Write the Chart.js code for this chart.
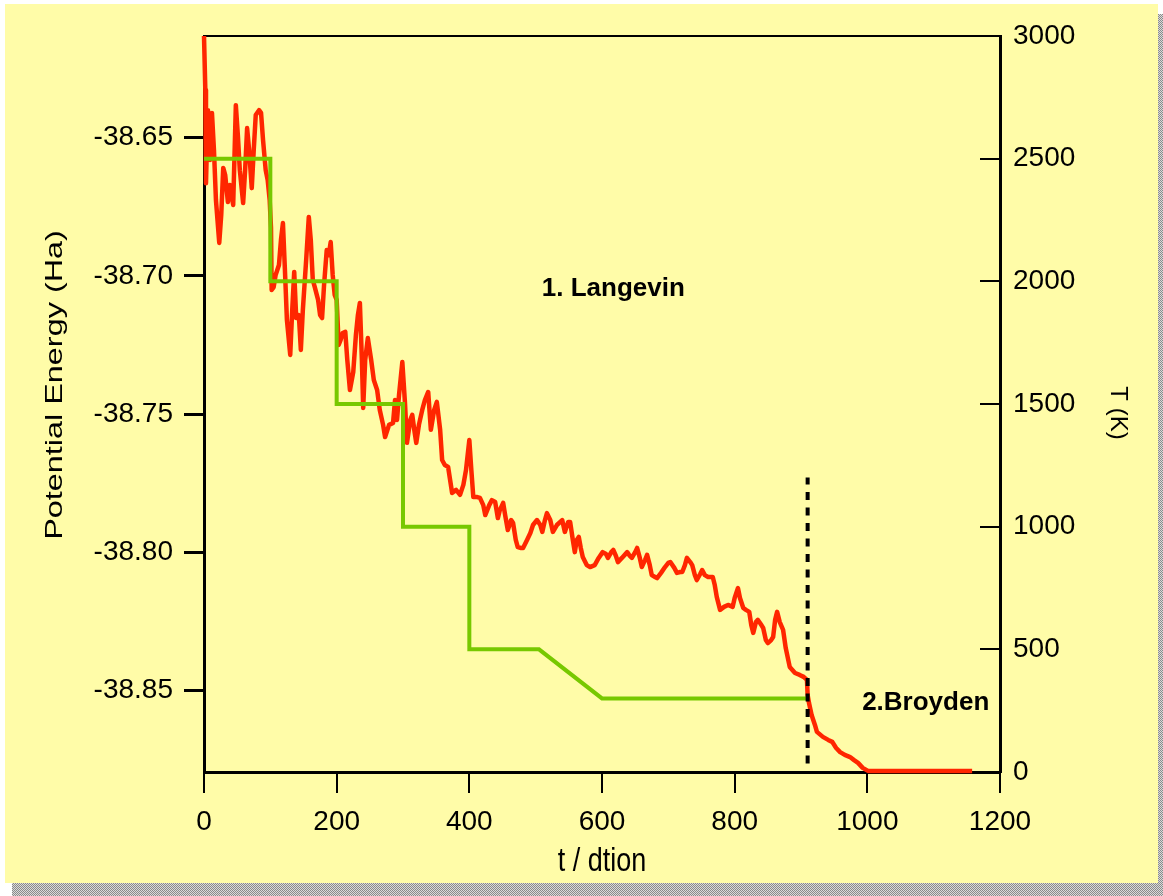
<!DOCTYPE html>
<html>
<head>
<meta charset="utf-8">
<title>Potential energy and temperature</title>
<script src="https://cdn.jsdelivr.net/npm/chart.js@4.4.1/dist/chart.umd.min.js"></script>
<style>
  html, body { margin: 0; padding: 0; background: #fff; }
  canvas { display: block; }
</style>
</head>
<body>
<canvas id="chart" width="1163" height="896"></canvas>
<script>
// Potential energy along the run (t in steps, E in Ha)
const energyTime = [
    0, 2, 3, 5, 6, 8, 9, 11, 12, 15,
    18, 23, 26, 29, 32, 36, 39, 44, 48, 51,
    54, 59, 62, 65, 68, 72, 75, 78, 83, 86,
    89, 93, 96, 99, 101, 102, 105, 108, 113, 116,
    119, 122, 125, 130, 133, 136, 139, 143, 146, 149,
    154, 158, 161, 164, 167, 172, 175, 178, 181, 185,
    188, 191, 194, 197, 200, 203, 206, 209, 213, 216,
    220, 225, 229, 232, 235, 238, 240, 243, 247, 252,
    256, 261, 265, 270, 273, 279, 285, 288, 291, 294,
    299, 303, 306, 311, 314, 317, 320, 324, 329, 333,
    338, 342, 347, 351, 356, 359, 363, 368, 371, 374,
    380, 386, 391, 395, 400, 403, 406, 412, 416, 421,
    424, 430, 434, 439, 443, 446, 451, 454, 458, 463,
    466, 470, 473, 478, 481, 487, 492, 496, 502, 507,
    510, 514, 517, 522, 526, 532, 540, 544, 549, 552,
    556, 559, 562, 565, 568, 571, 577, 582, 589, 595,
    601, 606, 609, 614, 617, 621, 624, 630, 638, 642,
    645, 650, 653, 657, 660, 665, 668, 672, 675, 680,
    683, 689, 695, 700, 703, 709, 713, 718, 721, 725,
    728, 733, 736, 740, 743, 748, 751, 755, 760, 767,
    770, 773, 778, 784, 790, 797, 800, 805, 808, 813,
    817, 822, 825, 828, 832, 835, 840, 843, 847, 850,
    855, 858, 861, 864, 868, 873, 877, 883, 891, 898,
    904, 909, 910, 912, 916, 921, 924, 933, 941, 947,
    953, 959, 966, 974, 980, 986, 993, 1001, 1015, 1158
];
const energyHa = [
    -38.6133, -38.6328, -38.6665, -38.6473, -38.6401, -38.6545, -38.6581, -38.6437, -38.6411, -38.6545,
    -38.6726, -38.6881, -38.6780, -38.6610, -38.6636, -38.6733, -38.6672, -38.6744, -38.6383, -38.6491,
    -38.6618, -38.6737, -38.6618, -38.6466, -38.6545, -38.6683, -38.6545, -38.6419, -38.6401, -38.6411,
    -38.6509, -38.6618, -38.6654, -38.6726, -38.6827, -38.7051, -38.7041, -38.6997, -38.6961, -38.6871,
    -38.6809, -38.6979, -38.7160, -38.7286, -38.7124, -38.6986, -38.7153, -38.7142, -38.7268, -38.7124,
    -38.6943, -38.6787, -38.6871, -38.7015, -38.7041, -38.7087, -38.7142, -38.7153, -38.7033, -38.6907,
    -38.6925, -38.6878, -38.6997, -38.7069, -38.7087, -38.7250, -38.7232, -38.7207, -38.7203, -38.7304,
    -38.7413, -38.7348, -38.7214, -38.7142, -38.7098, -38.7304, -38.7478, -38.7304, -38.7225, -38.7304,
    -38.7377, -38.7413, -38.7485, -38.7539, -38.7583, -38.7539, -38.7532, -38.7449, -38.7521, -38.7431,
    -38.7312, -38.7460, -38.7604, -38.7521, -38.7503, -38.7557, -38.7604, -38.7539, -38.7485, -38.7449,
    -38.7420, -38.7557, -38.7485, -38.7456, -38.7557, -38.7666, -38.7684, -38.7691, -38.7738, -38.7785,
    -38.7774, -38.7792, -38.7756, -38.7702, -38.7594, -38.7702, -38.7800, -38.7800, -38.7803, -38.7829,
    -38.7865, -38.7829, -38.7811, -38.7818, -38.7876, -38.7847, -38.7821, -38.7865, -38.7919, -38.7883,
    -38.7894, -38.7955, -38.7981, -38.7984, -38.7984, -38.7955, -38.7930, -38.7901, -38.7883, -38.7901,
    -38.7926, -38.7883, -38.7858, -38.7883, -38.7926, -38.7901, -38.7883, -38.7926, -38.7890, -38.7890,
    -38.7955, -38.7999, -38.7955, -38.7944, -38.7984, -38.8017, -38.8046, -38.8053, -38.8046, -38.8020,
    -38.7999, -38.8006, -38.8020, -38.7999, -38.7991, -38.8013, -38.8035, -38.8020, -38.7999, -38.8013,
    -38.8020, -38.7999, -38.7984, -38.8020, -38.8053, -38.8027, -38.8009, -38.8046, -38.8082, -38.8089,
    -38.8093, -38.8074, -38.8053, -38.8038, -38.8035, -38.8056, -38.8074, -38.8071, -38.8071, -38.8046,
    -38.8020, -38.8035, -38.8046, -38.8082, -38.8100, -38.8078, -38.8064, -38.8082, -38.8089, -38.8089,
    -38.8118, -38.8161, -38.8208, -38.8197, -38.8190, -38.8197, -38.8165, -38.8129, -38.8165, -38.8201,
    -38.8208, -38.8215, -38.8262, -38.8291, -38.8252, -38.8244, -38.8262, -38.8273, -38.8317, -38.8328,
    -38.8317, -38.8306, -38.8244, -38.8215, -38.8252, -38.8280, -38.8346, -38.8414, -38.8436, -38.8443,
    -38.8450, -38.8461, -38.8516, -38.8544, -38.8588, -38.8624, -38.8649, -38.8667, -38.8678, -38.8685,
    -38.8707, -38.8722, -38.8732, -38.8740, -38.8751, -38.8761, -38.8779, -38.8790, -38.8790, -38.8790
];

// Thermostat schedule (K)
const tempTime = [0, 100, 100, 200, 200, 300, 300, 400, 400, 505, 600, 910];
const tempK = [2500, 2500, 2000, 2000, 1500, 1500, 1000, 1000, 500, 500, 300, 300];

// Switch from Langevin dynamics to Broyden minimisation
const switchTime = [910, 910];
const switchK = [35, 1200];

const timeTicks = [0, 200, 400, 600, 800, 1000, 1200];
const energyTicks = [-38.85, -38.80, -38.75, -38.70, -38.65];
const tempTicks = [0, 500, 1000, 1500, 2000, 2500, 3000];

const phaseNotes = [
    { text: '1. Langevin', t: 617, k: 1969 },
    { text: '2.Broyden', t: 1088, k: 281 }
];

const FONT = "'Liberation Sans', Arial, sans-serif";
Chart.defaults.font.family = FONT;
Chart.defaults.color = '#000';

function zip(xs, ys) {
    return xs.map((x, i) => ({ x: x, y: ys[i] }));
}

function shadePattern(ctx) {
    const c = document.createElement('canvas');
    c.width = 2;
    c.height = 2;
    const g = c.getContext('2d');
    g.fillStyle = '#dadada';
    g.fillRect(0, 0, 2, 2);
    g.fillStyle = '#8a8a8a';
    g.fillRect(0, 0, 1, 1);
    g.fillRect(1, 1, 1, 1);
    return ctx.createPattern(c, 'repeat');
}

// yellow page with a dithered drop shadow
const backdrop = {
    id: 'backdrop',
    beforeDraw(chart) {
        const ctx = chart.ctx;
        ctx.save();
        ctx.fillStyle = '#fff';
        ctx.fillRect(0, 0, chart.width, chart.height);
        ctx.fillStyle = shadePattern(ctx);
        ctx.fillRect(12, 883, chart.width - 12, 13);
        ctx.fillRect(1158, 14, 5, 870);
        ctx.fillStyle = '#FFFCA8';
        ctx.fillRect(5, 4, 1153, 879);
        ctx.restore();
    },
    beforeDatasetsDraw(chart) {
        // top frame line
        const { ctx, chartArea } = chart;
        ctx.save();
        ctx.strokeStyle = '#000';
        ctx.lineWidth = 2;
        ctx.beginPath();
        ctx.moveTo(chartArea.left, chartArea.top);
        ctx.lineTo(chartArea.right, chartArea.top);
        ctx.stroke();
        ctx.restore();
    }
};

// axis titles and phase labels
const textLabels = {
    id: 'textLabels',
    afterDraw(chart) {
        const { ctx, chartArea, scales } = chart;
        ctx.save();
        ctx.fillStyle = '#000';
        ctx.textAlign = 'center';
        ctx.textBaseline = 'middle';

        ctx.save();
        ctx.translate(55, 385);
        ctx.rotate(-Math.PI / 2);
        ctx.scale(1.35, 1);
        ctx.font = '24px ' + FONT;
        ctx.fillText('Potential Energy (Ha)', 0, 0);
        ctx.restore();

        ctx.save();
        ctx.translate(1118, 413);
        ctx.rotate(Math.PI / 2);
        ctx.font = '24px ' + FONT;
        ctx.fillText('T (K)', 0, 0);
        ctx.restore();

        ctx.save();
        ctx.translate((chartArea.left + chartArea.right) / 2, 862);
        ctx.scale(1, 1.25);
        ctx.font = '27px ' + FONT;
        ctx.fillText('t / dtion', 0, 0);
        ctx.restore();

        ctx.font = 'bold 26px ' + FONT;
        phaseNotes.forEach(n => {
            ctx.fillText(n.text, scales.x.getPixelForValue(n.t), scales.y1.getPixelForValue(n.k));
        });
        ctx.restore();
    }
};

function setTicks(values) {
    return scale => { scale.ticks = values.map(v => ({ value: v })); };
}

// fixed box width, and no extra room for the end labels
function fixWidth(w) {
    return scale => {
        scale.width = w;
        scale.paddingTop = 0;
        scale.paddingBottom = 0;
    };
}

const tickFont = { size: 28 };

new Chart(document.getElementById('chart'), {
    type: 'line',
    data: {
        datasets: [
            {
                label: 'switch',
                data: zip(switchTime, switchK),
                yAxisID: 'y1',
                borderColor: '#000',
                borderWidth: 4,
                borderDash: [8, 7.5],
                pointRadius: 0,
                order: 0
            },
            {
                label: 'T (K)',
                data: zip(tempTime, tempK),
                yAxisID: 'y1',
                borderColor: '#77C800',
                borderWidth: 4,
                pointRadius: 0,
                tension: 0,
                order: 1
            },
            {
                label: 'Potential Energy (Ha)',
                data: zip(energyTime, energyHa),
                yAxisID: 'y',
                borderColor: '#FF2600',
                borderWidth: 4.5,
                borderJoinStyle: 'round',
                pointRadius: 0,
                tension: 0,
                clip: false,
                order: 2
            }
        ]
    },
    options: {
        responsive: false,
        animation: false,
        layout: { padding: { top: 36, left: 0, right: 0, bottom: 0 } },
        plugins: {
            legend: { display: false },
            tooltip: { enabled: false }
        },
        scales: {
            x: {
                type: 'linear',
                position: 'bottom',
                min: 0,
                max: 1200,
                afterBuildTicks: setTicks(timeTicks),
                afterFit: s => { s.height = 124; },
                grid: { drawOnChartArea: false, tickLength: 21, color: '#000', lineWidth: 2 },
                border: { color: '#000', width: 3 },
                ticks: { font: tickFont, color: '#000', padding: 12, maxRotation: 0, autoSkip: false, callback: v => String(v) }
            },
            y: {
                type: 'linear',
                position: 'left',
                min: -38.8794,
                max: -38.6133,
                afterBuildTicks: setTicks(energyTicks),
                afterFit: fixWidth(204),
                grid: { drawOnChartArea: false, tickLength: 20, color: '#000', lineWidth: 3 },
                border: { color: '#000', width: 3 },
                ticks: { font: tickFont, color: '#000', padding: 11, callback: v => v.toFixed(2) }
            },
            y1: {
                type: 'linear',
                position: 'right',
                min: 0,
                max: 3000,
                afterBuildTicks: setTicks(tempTicks),
                afterFit: fixWidth(163),
                grid: { drawOnChartArea: false, tickLength: -20, color: '#000', lineWidth: 2 },
                border: { color: '#000', width: 3 },
                ticks: { font: tickFont, color: '#000', padding: 33, callback: v => String(v) }
            }
        }
    },
    plugins: [backdrop, textLabels]
});
</script>
</body>
</html>
